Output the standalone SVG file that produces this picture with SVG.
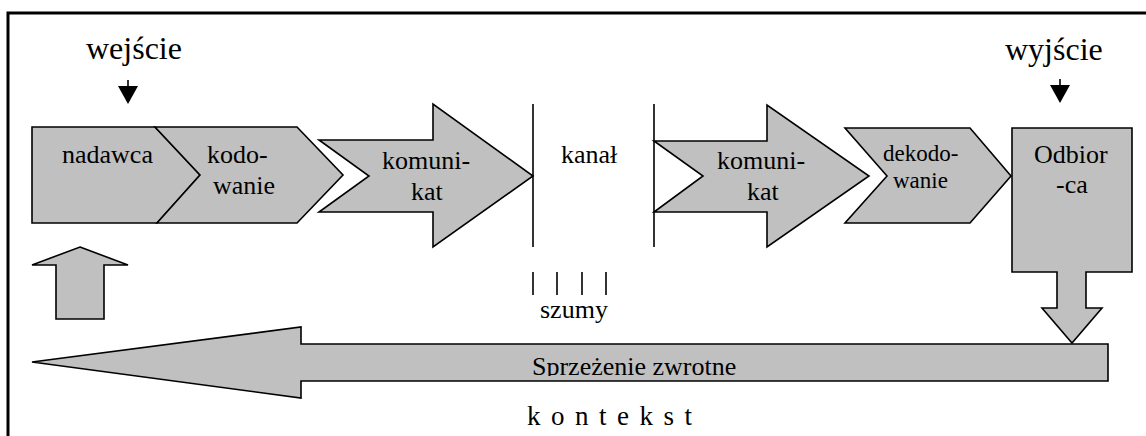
<svg xmlns="http://www.w3.org/2000/svg" width="1146" height="436" viewBox="0 0 1146 436" font-family="'Liberation Serif', 'Times New Roman', Times, 'DejaVu Serif', serif">
  <style>
    .shape { fill: #c0c0c0; stroke: #000; stroke-width: 1.6; stroke-linejoin: miter; }
    .line { stroke: #000; stroke-width: 1.6; fill: none; }
    text { font-family: "Liberation Serif", "Times New Roman", Times, "DejaVu Serif", serif; fill: #000; }
    .t26 { font-size: 26px; }
    .t23 { font-size: 23px; }
    .t32 { font-size: 32px; }
  </style>
  <defs>
    <clipPath id="barClip">
      <rect x="301" y="344" width="807" height="32"/>
    </clipPath>
  </defs>

  <rect width="1146" height="436" fill="#fff"/>

  <!-- frame (top and left edges) -->
  <path d="M8 436 V13 H1146" fill="none" stroke="#000" stroke-width="3"/>

  <!-- input marker -->
  <g id="wejscie">
    <text class="t32" x="86" y="59">wejście</text>
    <line class="line" x1="128" y1="80" x2="128" y2="88"/>
    <polygon points="118,86 138,86 128,104" fill="#000"/>
  </g>

  <!-- output marker -->
  <g id="wyjscie">
    <text class="t32" x="1005" y="60">wyjście</text>
    <line class="line" x1="1060" y1="79" x2="1060" y2="87"/>
    <polygon points="1050,85 1070,85 1060,103" fill="#000"/>
  </g>

  <g id="nadawca">
    <polygon class="shape" points="32,127 155,127 200,175 157,223 32,223"/>
    <text class="t26" x="62" y="163">nadawca</text>
  </g>

  <g id="kodowanie">
    <polygon class="shape" points="155,127 297,127 343,175 297,223 157,223 200,175"/>
    <text class="t26" x="207" y="163">kodo-</text>
    <text class="t26" x="213" y="194">wanie</text>
  </g>

  <g id="komunikat1">
    <polygon class="shape" points="319,140 433,140 433,104 533,176 433,247 433,212 319,212 369,176"/>
    <text class="t26" x="382" y="169">komuni-</text>
    <text class="t26" x="411" y="200">kat</text>
  </g>

  <g id="kanal">
    <line class="line" x1="533" y1="104" x2="533" y2="247"/>
    <line class="line" x1="654" y1="104" x2="654" y2="247"/>
    <text class="t26" x="561" y="163">kanał</text>
  </g>

  <g id="szumy">
    <line class="line" x1="533" y1="272" x2="533" y2="295"/>
    <line class="line" x1="557" y1="272" x2="557" y2="295"/>
    <line class="line" x1="582" y1="272" x2="582" y2="295"/>
    <line class="line" x1="606" y1="272" x2="606" y2="295"/>
    <text class="t26" x="540" y="318">szumy</text>
  </g>

  <g id="komunikat2">
    <polygon class="shape" points="654,141 767,141 767,105 869,176 767,247 767,212 654,212 703,176"/>
    <text class="t26" x="717" y="169">komuni-</text>
    <text class="t26" x="747" y="200">kat</text>
  </g>

  <g id="dekodowanie">
    <polygon class="shape" points="845,128 970,128 1011,176 970,223 845,223 887,176"/>
    <text class="t23" x="883" y="161">dekodo-</text>
    <text class="t23" x="893" y="188">wanie</text>
  </g>

  <g id="odbiorca">
    <polygon class="shape" points="1012,128 1132,128 1132,272 1086,272 1086,308 1102,308 1072,343 1042,308 1057,308 1057,272 1012,272"/>
    <text class="t26" x="1034" y="163">Odbior</text>
    <text class="t26" x="1056" y="193">-ca</text>
  </g>

  <g id="zrodlo">
    <polygon class="shape" points="80,247 128,265 104,265 104,319 56,319 56,265 32,265"/>
  </g>

  <g id="sprzezenie">
    <polygon class="shape" points="32,362 301,327 301,344 1108,344 1108,381 301,381 301,398"/>
    <text class="t26" x="532" y="375" clip-path="url(#barClip)">Sprzeżenie zwrotne</text>
  </g>

  <g id="kontekst">
    <text x="527" y="425" font-size="27" letter-spacing="10.5">kontekst</text>
  </g>
</svg>
